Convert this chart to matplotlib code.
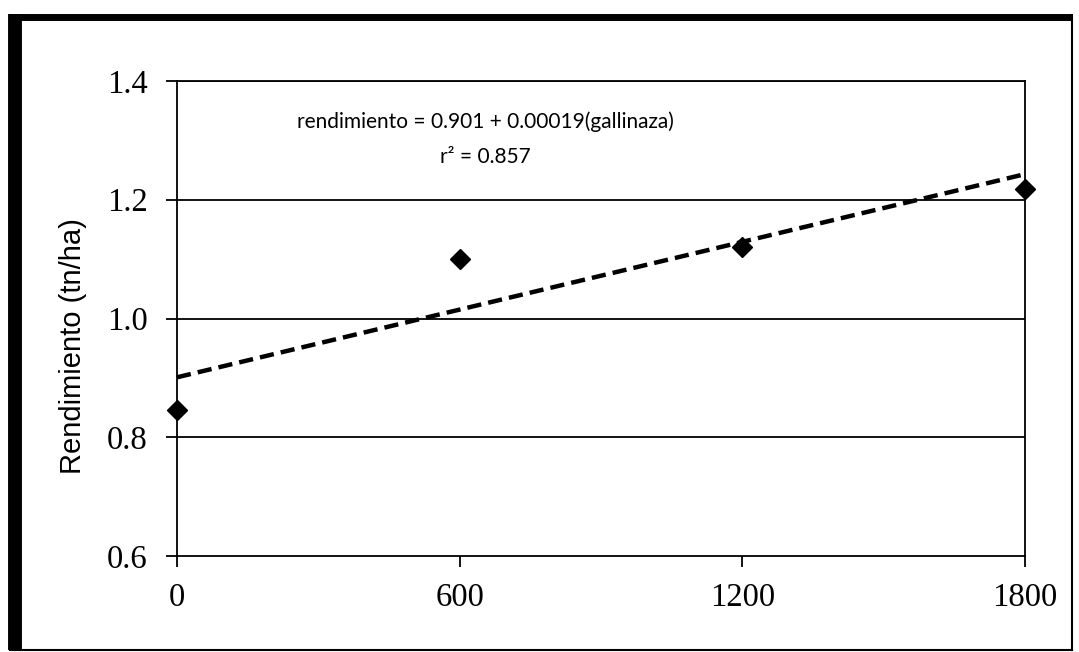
import numpy as np
import matplotlib.pyplot as plt
from matplotlib.lines import Line2D

gallinaza = np.array([0, 600, 1200, 1800])
rendimiento = np.array([0.846, 1.10, 1.12, 1.218])
intercept = 0.901
slope = 0.00019
xticks = [0, 600, 1200, 1800]
yticks = [0.6, 0.8, 1.0, 1.2, 1.4]

W, H = 1079, 652
fig = plt.figure(figsize=(10.79, 6.52), dpi=100)
ax = fig.add_axes([0.164, 0.147, 0.786, 0.729])

for y in yticks[1:]:
    ax.axhline(y, color='black', lw=1.3, zorder=1)

xfit = np.array([0, 1800])
ax.plot(xfit, intercept + slope * xfit, color='black', lw=3.2,
        linestyle=(0, (3.2, 1.6)), zorder=2, clip_on=False)
ax.plot(gallinaza, rendimiento, 'D', color='black', markersize=9.8, zorder=3,
        clip_on=False)

ax.set_xlim(0, 1800)
ax.set_ylim(0.6, 1.4)
ax.set_xticks(xticks)
ax.set_yticks(yticks)
ax.set_yticklabels(['0.6', '0.8', '1.0', '1.2', '1.4'])
for s in ax.spines.values():
    s.set_linewidth(1.3)
ax.tick_params(direction='out', length=8, width=1.3, labelsize=23.5)
ax.tick_params(axis='x', pad=11)
ax.tick_params(axis='y', pad=13)
for lab in ax.get_xticklabels() + ax.get_yticklabels():
    lab.set_fontfamily('Liberation Serif')

fig.text(73 / W, 1 - 346 / H, 'Rendimiento (tn/ha)', rotation=90, ha='center', va='center',
         fontsize=21, family='Liberation Sans')

ax.text(654, 1.331, 'rendimiento = 0.901 + 0.00019(gallinaza)', ha='center', va='center',
        fontsize=15, family='Lato')
ax.text(654, 1.272, 'r² = 0.857', ha='center', va='center', fontsize=15, family='Lato')

# outer frame
fig.add_artist(Line2D([15 / W, 15 / W], [1 - 14 / H, 2 / H], color='black', lw=10,
                      transform=fig.transFigure, solid_capstyle='butt'))
fig.add_artist(Line2D([10 / W, 1072 / W], [1 - 17 / H, 1 - 17 / H], color='black', lw=5,
                      transform=fig.transFigure, solid_capstyle='butt'))
fig.add_artist(Line2D([1072 / W, 1072 / W], [1 - 15 / H, 2 / H], color='black', lw=1.5,
                      transform=fig.transFigure))
fig.add_artist(Line2D([10 / W, 1072 / W], [2 / H, 2 / H], color='black', lw=1.5,
                      transform=fig.transFigure))

fig.savefig('out.png', dpi=100)
